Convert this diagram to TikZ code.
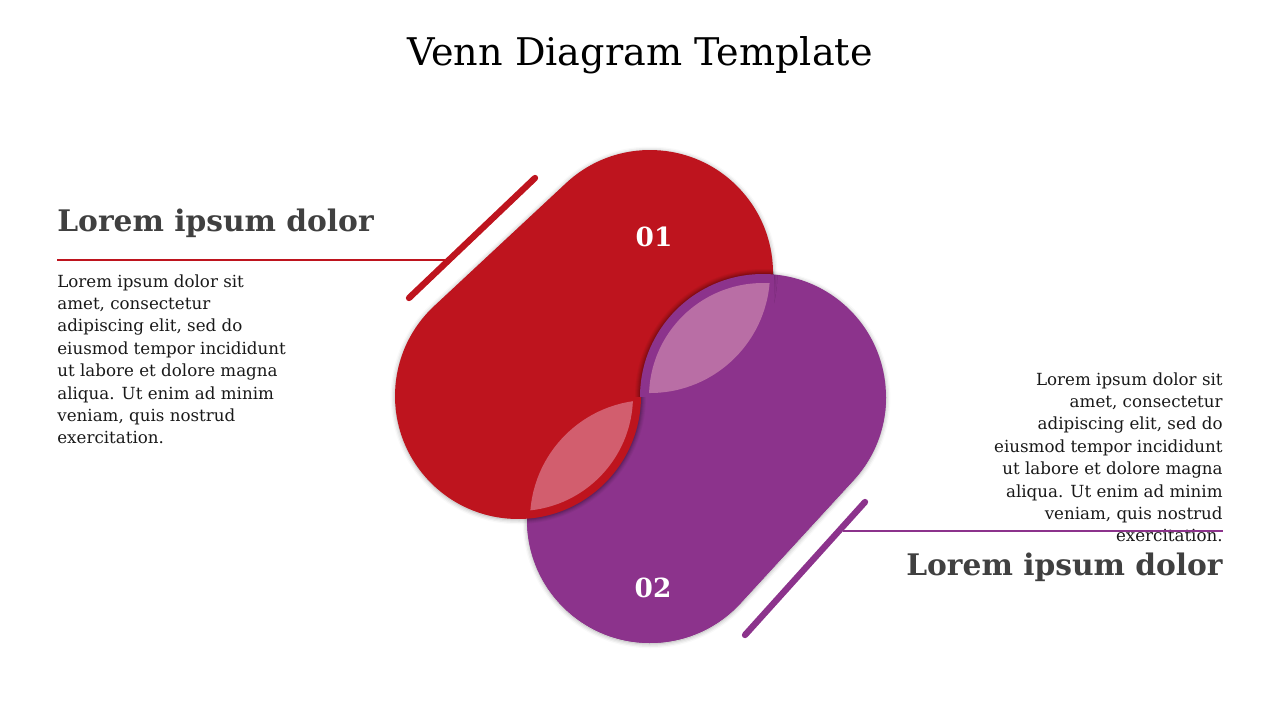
\documentclass[tikz,border=0pt]{standalone}
\usepackage{fontspec}
\setmainfont{DejaVu Serif}
\usetikzlibrary{calc,shadows.blur}

\definecolor{vennred}{RGB}{190,20,30}
\definecolor{vennpurple}{RGB}{140,51,140}
\definecolor{lensred}{RGB}{210,94,110}
\definecolor{lenspurple}{RGB}{185,110,165}
\definecolor{headgray}{RGB}{64,64,64}
\definecolor{bodyblack}{RGB}{25,25,25}

% pill shape: two end circles (#1,#2) of radius 123, #3 = angle of the side normal
\newcommand{\pill}[3]{($(#1)+(#3:123)$) arc[start angle=#3, end angle=#3-180, radius=123]
  -- ($(#2)+(#3+180:123)$) arc[start angle=#3+180, end angle=#3, radius=123] -- cycle}
% soft ring shadow round an end circle
\newcommand{\ringshadow}[1]{\foreach \d/\o in {5/0.04,4/0.05,3/0.06,2/0.08,1/0.1}
  {\fill[black, opacity=\o, even odd rule] (#1) circle[radius=123+\d] circle[radius=118];}}

\tikzset{
  softshadow/.style={blur shadow={shadow xshift=0pt, shadow yshift=-0.5pt,
      shadow blur radius=2.5pt, shadow opacity=35}},
  heading/.style={font=\fontsize{16.9}{20}\selectfont\bfseries, text=headgray, inner sep=0pt},
  bodytext/.style={font=\fontsize{9.5}{12.75}\selectfont, text=bodyblack, inner sep=0pt},
  number/.style={font=\fontsize{15}{16}\selectfont\bfseries, text=white, inner sep=0pt},
}

\begin{document}
\begin{tikzpicture}[x=0.02cm, y=-0.02cm]
            \useasboundingbox (0,0) rectangle (1280,720);
            % define point
            \coordinate (R1) at (650,273);
            \coordinate (R2) at (518,396);
            \coordinate (P1) at (763,397);
            \coordinate (P2) at (650,520);
            \coordinate (redtop) at (535,178);
            \coordinate (redbot) at (409,298);
            \coordinate (purtop) at (865,502);
            \coordinate (purbot) at (745,635);
            \coordinate (redend) at (445,260);
            \coordinate (purend) at (843,531);
            % title
            \node (title) at (640,55) {\fontsize{21.7}{24}\selectfont Venn Diagram Template};
            % pills
            \fill[vennpurple, softshadow] \pill{P1}{P2}{42.57};
            \fill[vennred, softshadow] \pill{R1}{R2}{47.02};
            \begin{scope}
              \clip (0,396) rectangle (1280,720);
              \fill[vennpurple] \pill{P1}{P2}{42.57};
            \end{scope}
            % circles lying over the other pill
            \begin{scope}
              \clip (527,396) rectangle (1280,720);
              \ringshadow{R2}
              \fill[vennred] (R2) circle (123);
            \end{scope}
            \begin{scope}
              \clip (0,0) rectangle (774,396);
              \ringshadow{P1}
              \fill[vennpurple] (P1) circle (123);
            \end{scope}
            % lenses
            \begin{scope}
              \clip (P1) circle (114);
              \fill[lenspurple] (R1) circle (120);
            \end{scope}
            \begin{scope}
              \clip (R2) circle (115);
              \fill[lensred] (P2) circle (120);
            \end{scope}
            % numbers
            \node[number] (n1) at (654,237) {01};
            \node[number] (n2) at (653,588) {02};
            % bars
            \draw[vennred, line width=3.6pt, line cap=round] (redtop) -- (redbot);
            \draw[vennpurple, line width=3.6pt, line cap=round] (purtop) -- (purbot);
            % left text
            \node[heading, anchor=west] (headL) at (57,223) {Lorem ipsum dolor};
            \draw[vennred, line width=0.6pt] (headL.west |- redend) -- (redend);
            \node[bodytext, anchor=north west, align=left] (bodyL) at (57,274)
              {Lorem ipsum dolor sit\\ amet, consectetur\\ adipiscing elit, sed do\\
               eiusmod tempor incididunt\\ ut labore et dolore magna\\
               aliqua. Ut enim ad minim\\ veniam, quis nostrud\\ exercitation.};
            % right text
            \node[bodytext, anchor=north east, align=right] (bodyR) at (1223,372)
              {Lorem ipsum dolor sit\\ amet, consectetur\\ adipiscing elit, sed do\\
               eiusmod tempor incididunt\\ ut labore et dolore magna\\
               aliqua. Ut enim ad minim\\ veniam, quis nostrud\\ exercitation.};
            \node[heading, anchor=east] (headR) at (1223,567) {Lorem ipsum dolor};
            \draw[vennpurple, line width=0.6pt] (purend) -- (headR.east |- purend);
        \end{tikzpicture}
\end{document}
